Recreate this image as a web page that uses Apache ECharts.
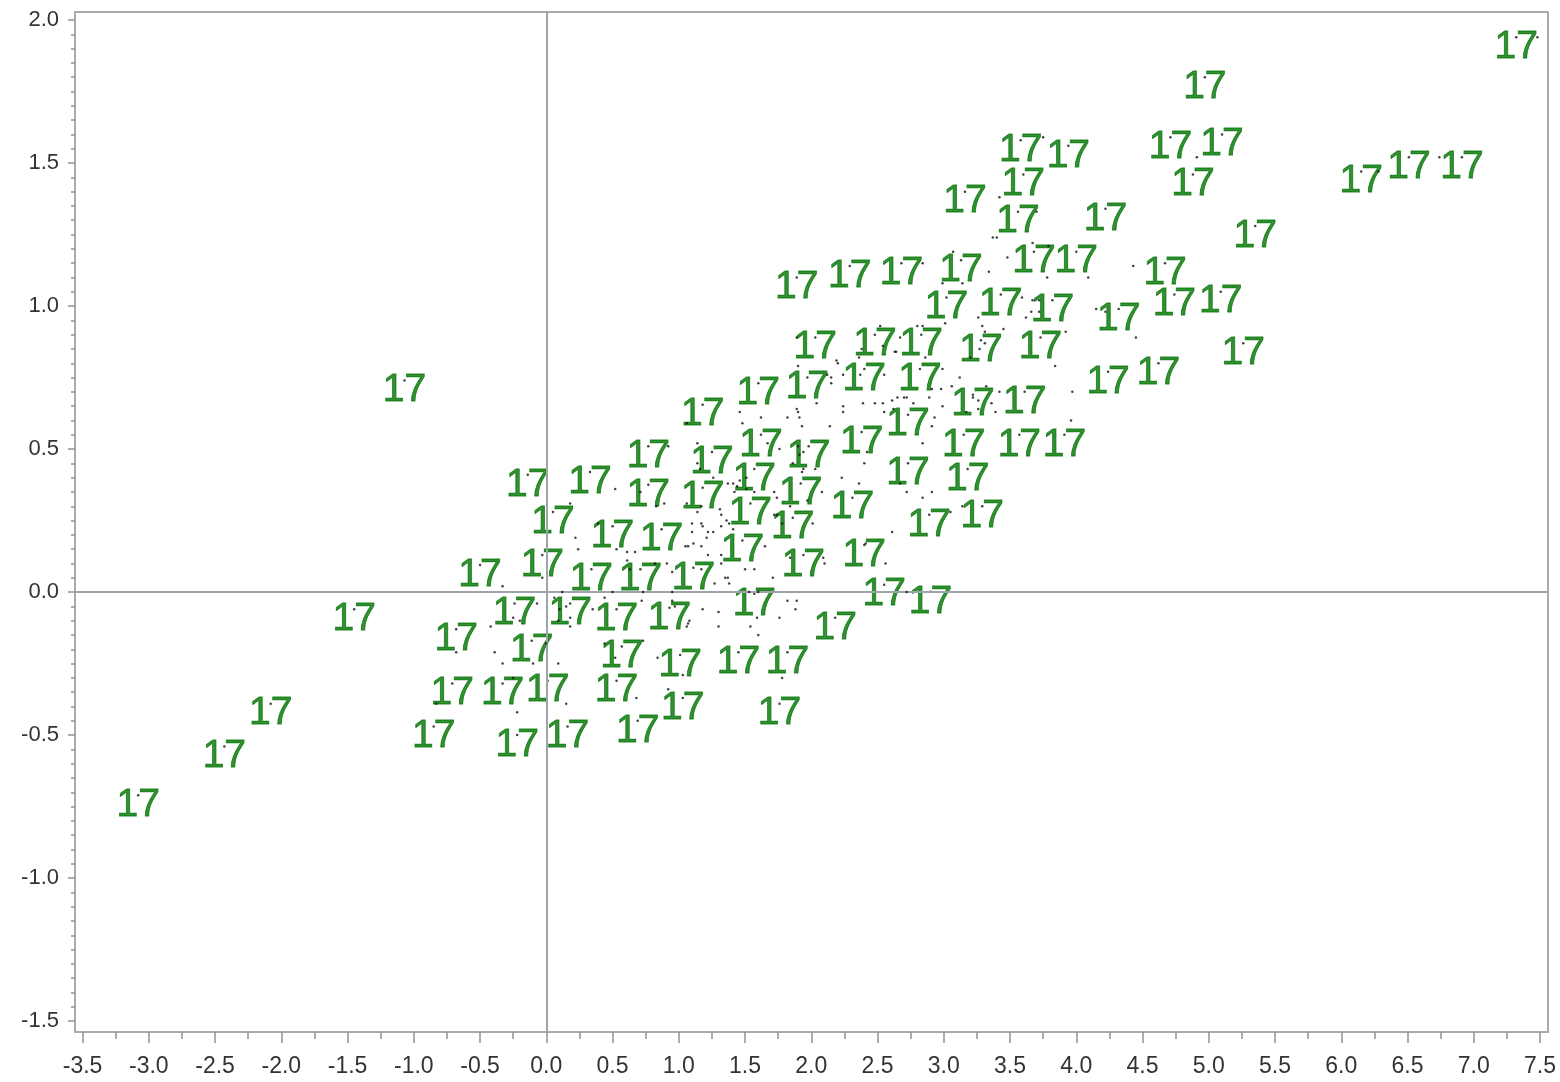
<!DOCTYPE html>
<html>
<head>
<meta charset="utf-8">
<title>Scatter 17</title>
<script src="https://cdn.jsdelivr.net/npm/echarts@6/dist/echarts.min.js"></script>
<style>
  html, body { margin: 0; padding: 0; background: #fff; }
  #chart { width: 1560px; height: 1082px; }
</style>
</head>
<body>
<div id="chart"></div>
<script>
// tick labels
const xTicks = [-3.5, -3.0, -2.5, -2.0, -1.5, -1.0, -0.5, 0.0, 0.5, 1.0, 1.5, 2.0, 2.5, 3.0, 3.5, 4.0, 4.5, 5.0, 5.5, 6.0, 6.5, 7.0, 7.5];
const yTicks = [-1.5, -1.0, -0.5, 0.0, 0.5, 1.0, 1.5, 2.0];

const pointLabel = '17';

// observations that carry the "17" label
const labelledPoints = [
  [7.32, 1.94], [4.97, 1.80], [3.58, 1.58], [3.94, 1.56], [4.71, 1.59], [5.10, 1.60],
  [6.15, 1.47], [6.51, 1.52], [6.91, 1.52], [3.60, 1.46], [4.88, 1.46], [3.16, 1.40],
  [3.56, 1.33], [4.22, 1.34], [5.35, 1.28],
  [1.89, 1.10], [2.29, 1.14], [2.68, 1.15], [3.13, 1.16], [3.68, 1.19], [4.00, 1.19], [4.67, 1.15],
  [3.02, 1.03], [3.43, 1.04], [3.82, 1.02], [4.32, 0.99], [4.74, 1.04], [5.09, 1.05],
  [2.03, 0.89], [2.48, 0.90], [2.83, 0.90], [3.28, 0.88], [3.73, 0.89], [5.26, 0.87],
  [-1.07, 0.74], [1.60, 0.73], [1.97, 0.75], [2.40, 0.78], [2.82, 0.78], [4.24, 0.77], [4.62, 0.80],
  [1.18, 0.655], [3.22, 0.69], [3.61, 0.70], [2.73, 0.62],
  [0.77, 0.51], [1.25, 0.49], [1.62, 0.55], [1.98, 0.51], [2.38, 0.56], [3.15, 0.55], [3.57, 0.55], [3.91, 0.55],
  [-0.14, 0.41], [0.33, 0.42], [0.77, 0.375], [1.18, 0.365], [1.57, 0.43], [1.92, 0.38], [2.73, 0.45], [3.18, 0.43],
  [0.05, 0.28], [0.50, 0.23], [0.87, 0.22], [1.54, 0.31], [1.86, 0.26], [2.31, 0.33], [2.89, 0.27], [3.29, 0.30],
  [-0.50, 0.095], [-0.03, 0.13], [0.34, 0.08], [0.71, 0.08], [1.11, 0.085], [1.48, 0.18], [1.94, 0.13], [2.40, 0.165],
  [-1.45, -0.06], [-0.24, -0.04], [0.18, -0.04], [0.53, -0.06], [0.93, -0.055], [1.57, -0.006], [2.55, 0.026], [2.90, 0.001], [2.18, -0.09],
  [-0.68, -0.13], [-0.11, -0.17], [0.57, -0.19], [1.01, -0.22], [1.45, -0.21], [1.82, -0.21],
  [-0.71, -0.32], [-0.33, -0.32], [0.01, -0.31], [0.53, -0.31], [1.03, -0.37], [1.76, -0.39],
  [-2.08, -0.39], [-0.85, -0.47], [-0.22, -0.50], [0.16, -0.47], [0.69, -0.45],
  [-2.43, -0.54], [-3.08, -0.71]
];

// the remaining observations, drawn as bare dots
const plainPoints = [
  [1.46, 0.63], [1.62, 0.61], [1.82, 0.61], [1.90, 0.63], [1.91, 0.61], [1.48, 0.59], [2.14, 0.58],
  [2.24, 0.65], [2.24, 0.63], [1.67, 0.52], [1.76, 0.50], [1.91, 0.48], [1.94, 0.43], [2.03, 0.43],
  [2.23, 0.40], [1.14, 0.52], [1.06, 0.59], [0.92, 0.51], [1.37, 0.38], [1.41, 0.38], [1.46, 0.39],
  [1.51, 0.36], [1.74, 0.33], [1.84, 0.30], [1.26, 0.40], [0.52, 0.36], [0.71, 0.35], [0.83, 0.30],
  [0.89, 0.31], [1.06, 0.31], [1.14, 0.28], [1.17, 0.30], [1.10, 0.24], [1.17, 0.24], [1.22, 0.21],
  [1.26, 0.21], [1.32, 0.27], [1.32, 0.23], [1.38, 0.24], [1.41, 0.22], [1.74, 0.27], [1.78, 0.24],
  [2.01, 0.24], [0.18, 0.31], [0.22, 0.19], [0.24, 0.15], [0.39, 0.24], [0.53, 0.15], [0.61, 0.14],
  [0.67, 0.14], [0.61, 0.11], [0.63, 0.08], [0.82, 0.10], [0.91, 0.10], [0.95, 0.07], [1.07, 0.16],
  [1.11, 0.17], [1.17, 0.16], [1.22, 0.13], [1.32, 0.13], [1.32, 0.10], [1.37, 0.05], [1.38, 0.03],
  [1.50, 0.08], [1.57, 0.08], [1.71, 0.05], [1.82, -0.03], [1.88, -0.06], [1.76, -0.09], [-0.03, 0.05],
  [-0.33, 0.02], [0.12, 0.00], [0.06, -0.02], [0.10, -0.06], [0.09, -0.10], [0.15, -0.05], [0.18, -0.09],
  [0.18, -0.12], [0.35, -0.06], [0.50, 0.00], [0.44, -0.02], [0.72, -0.03], [0.73, 0.00], [0.95, 0.00],
  [0.95, -0.03], [0.97, -0.05], [1.07, -0.11], [1.18, -0.06], [1.30, -0.07], [1.30, -0.12], [1.59, -0.09],
  [1.54, -0.12], [1.60, -0.15], [1.08, -0.10], [1.06, -0.12], [0.73, -0.17], [-0.20, -0.10], [-0.25, -0.09],
  [-0.07, -0.04], [-0.42, -0.12], [-0.39, -0.21], [-0.33, -0.25], [-0.10, -0.25], [0.00, -0.18], [0.09, -0.25],
  [-0.68, -0.21], [-0.25, -0.30], [-0.22, -0.42], [-0.83, -0.39], [0.15, -0.39], [0.68, -0.37], [0.44, -0.18],
  [0.52, -0.23], [0.92, -0.34], [1.03, -0.29], [0.84, -0.23], [1.78, -0.30], [1.89, -0.03], [1.60, 0.00],
  [2.52, 0.93], [2.54, 0.86], [2.63, 0.84], [3.01, 0.94], [3.29, 0.93], [3.31, 0.91], [3.20, 0.82],
  [3.27, 0.85], [3.31, 0.87], [2.99, 0.78], [3.12, 0.75], [3.06, 0.72], [2.98, 0.71], [2.91, 0.71],
  [2.89, 0.68], [2.19, 0.81], [1.90, 0.79], [1.89, 0.64], [1.93, 0.58], [2.24, 0.76], [2.15, 0.75],
  [2.15, 0.73], [2.39, 0.66], [2.48, 0.66], [2.54, 0.66], [2.61, 0.67], [2.65, 0.68], [2.70, 0.68],
  [2.77, 0.66], [2.55, 0.63], [2.62, 0.64], [2.99, 0.65], [2.93, 0.61], [2.91, 0.58], [2.84, 0.52],
  [2.04, 0.66], [2.42, 0.49], [2.40, 0.45], [2.36, 0.38], [2.67, 0.38], [2.72, 0.35], [2.84, 0.33],
  [2.91, 0.35], [3.14, 0.30], [2.61, 0.21], [2.56, 0.10], [2.10, 0.10], [2.09, 0.12], [1.97, 0.32],
  [2.08, 0.35], [1.72, 0.35], [1.72, 0.27], [1.90, 0.51], [1.94, 0.49], [1.93, 0.42], [1.86, 0.45],
  [1.57, 0.35], [1.51, 0.40], [1.44, 0.37], [1.42, 0.35], [1.31, 0.29], [1.36, 0.25], [1.35, 0.05],
  [1.27, 0.03], [1.17, 0.08], [1.05, 0.16], [1.21, 0.19], [1.18, 0.23], [1.10, 0.21], [1.14, 0.45],
  [1.16, 0.43],
  [3.75, 1.59], [4.91, 1.52], [3.42, 1.38], [3.70, 1.33], [3.37, 1.24], [3.40, 1.24], [3.67, 1.22],
  [3.79, 1.21], [3.78, 1.10], [4.09, 1.10], [4.43, 1.14], [3.34, 1.12], [2.99, 1.08], [3.14, 1.08],
  [3.07, 1.19], [2.84, 1.15], [3.26, 0.96], [3.45, 0.92], [3.59, 1.03], [3.67, 1.02], [3.66, 0.98],
  [3.62, 0.96], [3.72, 1.02], [3.72, 0.98], [4.15, 0.99], [4.22, 0.98], [4.45, 0.89], [3.92, 0.91],
  [2.84, 0.93], [2.86, 0.82], [2.67, 0.89], [2.80, 0.93], [3.84, 0.79], [3.97, 0.70], [2.72, 0.68],
  [3.42, 0.70], [3.32, 0.72], [3.22, 0.68], [3.26, 0.67], [3.36, 0.66], [3.26, 0.64], [3.17, 0.63],
  [3.39, 0.63], [3.05, 0.28], [7.48, 1.94], [6.28, 1.47], [6.74, 1.52], [3.48, 1.17], [3.96, 0.60],
  [2.38, 0.85], [2.36, 0.82], [2.20, 0.80], [2.64, 0.84], [1.89, 0.89], [2.12, 0.76], [2.37, 0.76],
  [2.55, 0.76], [1.65, 0.16], [1.53, 0.00], [2.41, 0.17], [1.84, 0.12], [2.72, 0.00]
];

// minor tick positions between the labelled ones
const xMinor = [];
for (let i = 0; i < xTicks.length - 1; i++) xMinor.push((xTicks[i] + xTicks[i + 1]) / 2);
const yMinor = [];
for (let i = 0; i <= 70; i++) {
  if (i % 10 !== 0) yMinor.push((-150 + i * 5) / 100);
}

const frameColor = '#a7acb0';
const tickColor = '#8e9398';
const labelGreen = '#007300';
const fontFamily = 'Liberation Sans, Arial, sans-serif';

const chart = echarts.init(document.getElementById('chart'));

const option = {
  backgroundColor: '#fff',
  animation: false,
  grid: {
    left: 75, right: 12, top: 12, bottom: 50,
    show: true, borderColor: frameColor, borderWidth: 2, backgroundColor: '#fff'
  },
  xAxis: [
    {
      type: 'value', min: -3.557, max: 7.56, position: 'bottom',
      axisLine: { show: true, onZero: false, lineStyle: { color: frameColor, width: 2 } },
      axisTick: { show: true, customValues: xTicks, length: 11, lineStyle: { color: tickColor, width: 1.5 } },
      axisLabel: {
        customValues: xTicks, margin: 23, color: '#333', fontSize: 23, fontFamily: fontFamily,
        formatter: v => v.toFixed(1)
      },
      splitLine: { show: false }
    },
    {
      type: 'value', min: -3.557, max: 7.56, position: 'bottom', offset: 0,
      axisLine: { show: false, onZero: false },
      axisTick: { show: true, customValues: xMinor, length: 7, lineStyle: { color: tickColor, width: 1.5 } },
      axisLabel: { show: false },
      splitLine: { show: false }
    }
  ],
  yAxis: [
    {
      type: 'value', min: -1.538, max: 2.028, position: 'left',
      axisLine: { show: true, onZero: false, lineStyle: { color: frameColor, width: 2 } },
      axisTick: { show: true, customValues: yTicks, length: 7, lineStyle: { color: tickColor, width: 1.5 } },
      axisLabel: {
        customValues: yTicks, margin: 16, color: '#333', fontSize: 22, fontFamily: fontFamily,
        formatter: v => v.toFixed(1)
      },
      splitLine: { show: false }
    },
    {
      type: 'value', min: -1.538, max: 2.028, position: 'left', offset: 0,
      axisLine: { show: false, onZero: false },
      axisTick: { show: true, customValues: yMinor, length: 4, lineStyle: { color: tickColor, width: 1.5 } },
      axisLabel: { show: false },
      splitLine: { show: false }
    }
  ],
  series: [
    {
      name: 'labelled',
      type: 'scatter',
      data: labelledPoints,
      symbol: 'circle',
      symbolSize: 2.5,
      itemStyle: { color: '#111' },
      label: {
        show: true,
        formatter: pointLabel,
        position: 'inside',
        offset: [0, 10],
        color: labelGreen,
        textBorderColor: labelGreen,
        textBorderWidth: 0.8,
        fontSize: 39,
        fontFamily: fontFamily
      },
      silent: true,
      z: 3,
      markLine: {
        silent: true,
        symbol: 'none',
        label: { show: false },
        lineStyle: { color: '#9ea4a9', width: 2, type: 'solid' },
        data: [{ xAxis: 0 }, { yAxis: 0 }]
      }
    },
    {
      name: 'dots',
      type: 'scatter',
      data: plainPoints,
      symbol: 'circle',
      symbolSize: 2.5,
      itemStyle: { color: '#111' },
      silent: true,
      z: 5
    }
  ]
};

chart.setOption(option);
</script>
</body>
</html>
